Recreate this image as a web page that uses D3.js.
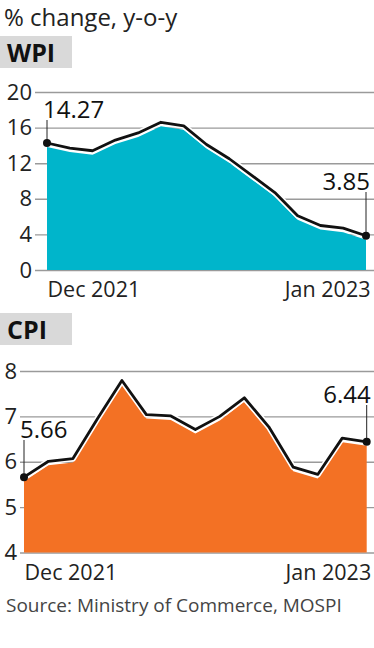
<!DOCTYPE html>
<html>
<head>
<meta charset="utf-8">
<script src="https://cdn.jsdelivr.net/npm/d3@7"></script>
<style>
  body { margin: 0; background: #fff; }
  svg { display: block; font-family: "Open Sans", sans-serif; }
</style>
</head>
<body>
<svg id="chart" width="374" height="648"></svg>
<script>
// values, one point per month
var wpi = [14.27, 13.7, 13.4, 14.6, 15.4, 16.6, 16.2, 14.1, 12.5, 10.6, 8.7, 6.1, 5.0, 4.7, 3.85];
var cpi = [5.66, 6.01, 6.07, 6.95, 7.79, 7.04, 7.01, 6.71, 7.0, 7.41, 6.77, 5.88, 5.72, 6.52, 6.44];
var wpiTicks = [0, 4, 8, 12, 16, 20];
var cpiTicks = [4, 5, 6, 7, 8];
var xTickLabels = ["Dec 2021", "Jan 2023"];

var svg = d3.select("#chart");

svg.append("text")
    .attr("x", 4)
    .attr("y", 25.5)
    .style("font-size", "24px")
    .style("fill", "#222")
    .text("% change, y-o-y");

// one panel: label box, grid, area, line, end annotations
function panel(opts) {
  var data = opts.data;
  var x = d3.scaleLinear().domain([0, data.length - 1]).range(opts.xRange);
  var y = d3.scaleLinear().domain(opts.yDomain).range(opts.yRange);

  svg.append("rect")
      .attr("x", 0)
      .attr("y", opts.boxY)
      .attr("width", 72)
      .attr("height", 32)
      .attr("fill", "#d9d9d9");
  svg.append("text")
      .attr("x", 7)
      .attr("y", opts.boxY + 26)
      .style("font-size", "25px")
      .style("font-weight", "bold")
      .style("fill", "#111")
      .text(opts.name);

  // grid + y labels
  var yAxis = svg.append("g")
      .attr("transform", "translate(374,0)")
      .call(d3.axisLeft(y).tickValues(opts.ticks).tickFormat(d3.format("d"))
        .tickSize(374 - opts.gridStart).tickPadding(3));
  yAxis.select(".domain").remove();
  yAxis.selectAll("line").attr("stroke", "#9a9a9a").attr("stroke-width", 1.4);
  yAxis.selectAll("text")
      .style("font-family", "Open Sans, sans-serif")
      .style("font-size", "22px")
      .attr("fill", "#222");

  var area = d3.area()
      .x(function(d, i) { return x(i); })
      .y0(y(opts.yDomain[0]))
      .y1(function(d) { return y(d) + 4; });
  var line = d3.line()
      .x(function(d, i) { return x(i); })
      .y(function(d) { return y(d); });

  svg.append("path").datum(data).attr("d", area).attr("fill", opts.color);
  svg.append("path").datum(data).attr("d", line)
      .attr("fill", "none").attr("stroke", "#fff").attr("stroke-width", 6).attr("stroke-linejoin", "round");
  svg.append("path").datum(data).attr("d", line)
      .attr("fill", "none").attr("stroke", "#111").attr("stroke-width", 2.8).attr("stroke-linejoin", "round");

  // x labels at first and last month
  var xAxis = svg.append("g")
      .attr("transform", "translate(0," + opts.xLabelY + ")")
      .call(d3.axisBottom(x).tickValues([0, data.length - 1]).tickSize(0).tickPadding(0)
        .tickFormat(function(d, i) { return xTickLabels[i]; }));
  xAxis.select(".domain").remove();
  xAxis.selectAll("text")
      .style("font-family", "Open Sans, sans-serif")
      .style("font-size", "21.5px")
      .attr("fill", "#222")
      .attr("dy", 0)
      .attr("y", 0)
      .attr("text-anchor", function(d, i) { return i === 0 ? "start" : "end"; })
      .attr("dx", function(d, i) { return i === 0 ? 0 : 4; });

  // end point annotations
  [0, data.length - 1].forEach(function(i, k) {
    var px = x(i), py = y(data[i]);
    svg.append("line")
        .attr("x1", px).attr("x2", px)
        .attr("y1", opts.annoY[k] + 2).attr("y2", py)
        .attr("stroke", "#222").attr("stroke-width", 1);
    svg.append("circle")
        .attr("cx", px).attr("cy", py).attr("r", 4)
        .attr("fill", "#111");
    svg.append("text")
        .attr("x", k === 0 ? px - 4 : px + 4)
        .attr("y", opts.annoY[k])
        .attr("text-anchor", k === 0 ? "start" : "end")
        .style("font-size", "24px")
        .style("font-weight", 500)
        .style("fill", "#111")
        .text(data[i].toFixed(2));
  });
}

panel({
  name: "WPI", data: wpi, ticks: wpiTicks, color: "#00b5cb",
  boxY: 36, xRange: [47, 366], yDomain: [0, 20], yRange: [270, 92],
  gridStart: 35, xLabelY: 297, annoY: [118, 190]
});

panel({
  name: "CPI", data: cpi, ticks: cpiTicks, color: "#f37124",
  boxY: 313, xRange: [24, 366.7], yDomain: [4, 8], yRange: [552.5, 371],
  gridStart: 20, xLabelY: 580, annoY: [438, 403]
});

svg.append("text")
    .attr("x", 6)
    .attr("y", 612)
    .style("font-size", "19px")
    .style("fill", "#444")
    .text("Source: Ministry of Commerce, MOSPI");
</script>
</body>
</html>
